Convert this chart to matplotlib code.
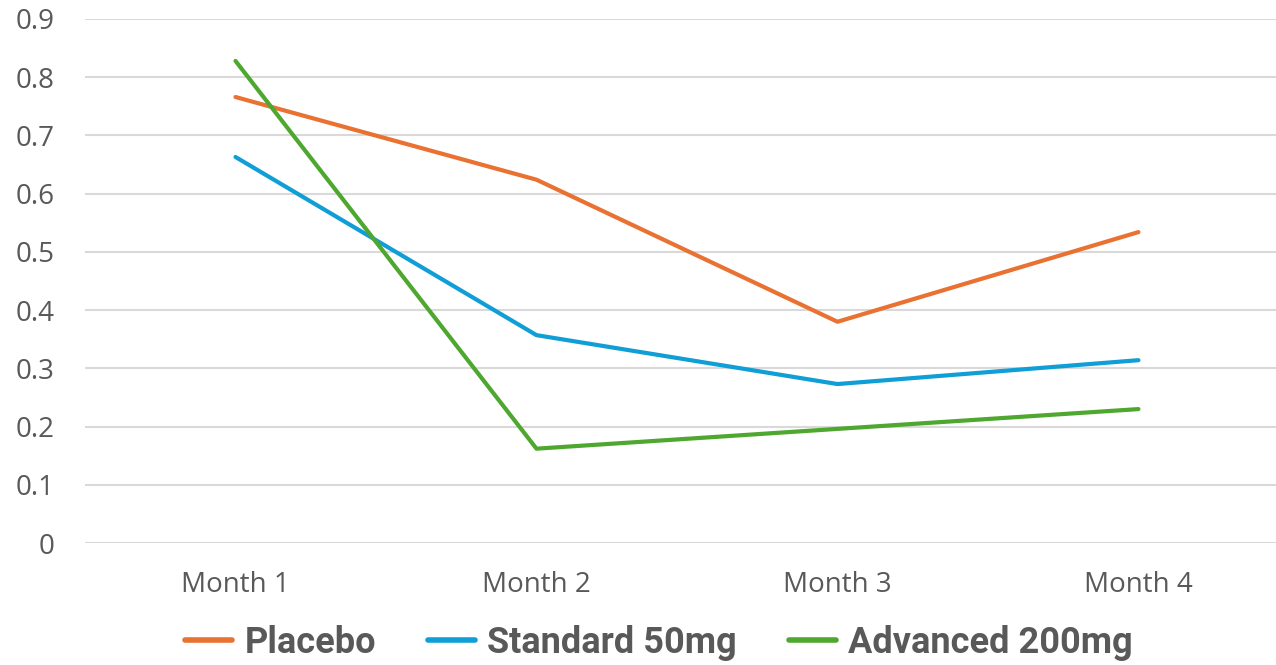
import matplotlib.pyplot as plt

# data
months = ["Month 1", "Month 2", "Month 3", "Month 4"]
placebo = [0.766, 0.624, 0.380, 0.534]
standard = [0.663, 0.357, 0.273, 0.314]
advanced = [0.828, 0.162, 0.196, 0.230]

plt.rcParams['font.family'] = ['Open Sans', 'DejaVu Sans']

fig = plt.figure(figsize=(12.76, 6.65), dpi=100)
ax = fig.add_axes([85 / 1276, 1 - 543 / 665, 1 - 85 / 1276, (543 - 19) / 665])

x = range(len(months))
ax.plot(x, placebo, color='#E97132', lw=3, label='Placebo', solid_capstyle='round')
ax.plot(x, standard, color='#0F9ED5', lw=3, label='Standard 50mg', solid_capstyle='round')
ax.plot(x, advanced, color='#4EA72E', lw=3, label='Advanced 200mg', solid_capstyle='round')

ax.set_xlim(-0.5, 3.457)
ax.set_ylim(0, 0.9)
ax.set_yticks([i / 10 for i in range(10)])
ax.set_yticklabels(['0'] + [f'{i / 10:.1f}' for i in range(1, 10)])
ax.set_xticks(list(x))
ax.set_xticklabels(months)
ax.tick_params(length=0, labelsize=20, labelcolor='#595959')
ax.tick_params(axis='y', pad=22)
ax.tick_params(axis='x', pad=20)
ax.grid(axis='y', color='#D9D9D9', lw=1.5)
ax.set_axisbelow(True)
for s in ax.spines.values():
    s.set_visible(False)

leg = fig.legend(loc='center', bbox_to_anchor=(659 / 1276, 1 - 643 / 665), ncol=3,
                 frameon=False, handlelength=1.3, handletextpad=0.33, columnspacing=1.45,
                 borderpad=0.1,
                 prop={'family': 'Roboto', 'weight': 'bold', 'size': 26})
for t in leg.get_texts():
    t.set_color('#595959')
for h in leg.legend_handles:
    h.set_linewidth(4)
    h.set_solid_capstyle('round')

fig.savefig('out.png', dpi=100)
